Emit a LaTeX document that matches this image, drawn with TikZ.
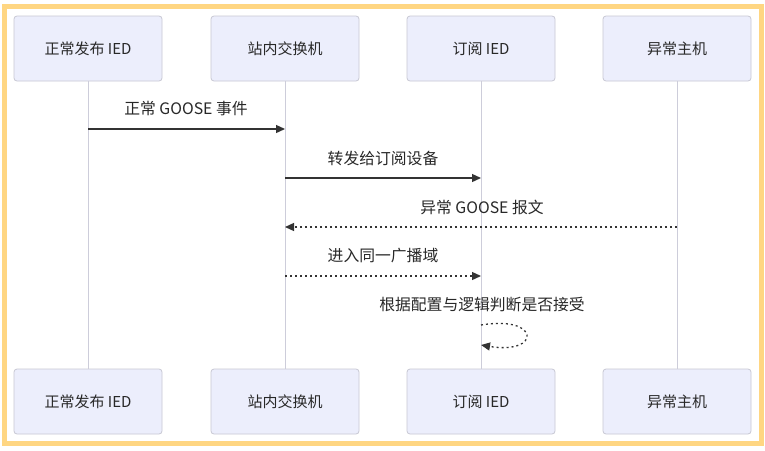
\documentclass[tikz,border=0pt]{standalone}
\usepackage{fontspec}
\setmainfont{Noto Sans CJK SC}
\usetikzlibrary{arrows.meta}
\definecolor{boxfill}{RGB}{236,238,252}
\definecolor{boxborder}{RGB}{200,200,212}
\definecolor{lifec}{RGB}{205,205,218}
\definecolor{framec}{RGB}{255,214,130}
\definecolor{textc}{RGB}{40,40,40}
\definecolor{linec}{RGB}{51,51,51}
\begin{document}
\begin{tikzpicture}[x=1pt,y=-1pt,
  actor/.style={draw=boxborder, fill=boxfill, rounded corners=3pt, minimum width=148pt, minimum height=65pt, inner sep=0pt, font=\fontsize{15}{17}\selectfont, text=textc, line width=0.8pt},
  msg/.style={draw=linec, line width=1.3pt, -{Triangle[length=9pt,width=8pt]}},
  dmsg/.style={msg, dash pattern=on 2pt off 3pt},
  lbl/.style={font=\fontsize{15.8}{18}\selectfont, text=textc, inner sep=0pt},
  life/.style={draw=lifec, line width=1pt}]
\useasboundingbox (0,0) rectangle (765,450);
\fill[white] (0,0) rectangle (765,450);
\draw[framec, line width=5pt] (4.5,6.5) rectangle (761.5,443.5);
% actors top
\node[actor] (a1) at (88,48.5) {正常发布 IED};
\node[actor] (a2) at (285,48.5) {站内交换机};
\node[actor] (a3) at (481,48.5) {订阅 IED};
\node[actor] (a4) at (677,48.5) {异常主机};
% actors bottom
\node[actor] (b1) at (88,401.5) {正常发布 IED};
\node[actor] (b2) at (285,401.5) {站内交换机};
\node[actor] (b3) at (481,401.5) {订阅 IED};
\node[actor] (b4) at (677,401.5) {异常主机};
% lifelines
\draw[life] (a1) -- (b1);
\draw[life] (a2) -- (b2);
\draw[life] (a3) -- (b3);
\draw[life] (a4) -- (b4);
% message anchor points
\coordinate (m1s) at (88,129); \coordinate (m1e) at (285,129);
\coordinate (m2s) at (285,178); \coordinate (m2e) at (481,178);
\coordinate (m3s) at (677,227); \coordinate (m3e) at (285,227);
\coordinate (m4s) at (285,276); \coordinate (m4e) at (481,276);
\coordinate (m5s) at (481,325); \coordinate (m5e) at (481,345);
% messages
\draw[msg] (m1s) -- (m1e);
\node[lbl] (l1) at (186,109) {正常 GOOSE 事件};
\draw[msg] (m2s) -- (m2e);
\node[lbl] (l2) at (383,158) {转发给订阅设备};
\draw[dmsg] (m3s) -- (m3e);
\node[lbl] (l3) at (482,207) {异常 GOOSE 报文};
\draw[dmsg] (m4s) -- (m4e);
\node[lbl] (l4) at (383,256) {进入同一广播域};
\node[lbl] (l5) at (482,305) {根据配置与逻辑判断是否接受};
\draw[dmsg] (m5s) .. controls (541,315) and (541,355) .. (m5e);
\end{tikzpicture}
\end{document}
